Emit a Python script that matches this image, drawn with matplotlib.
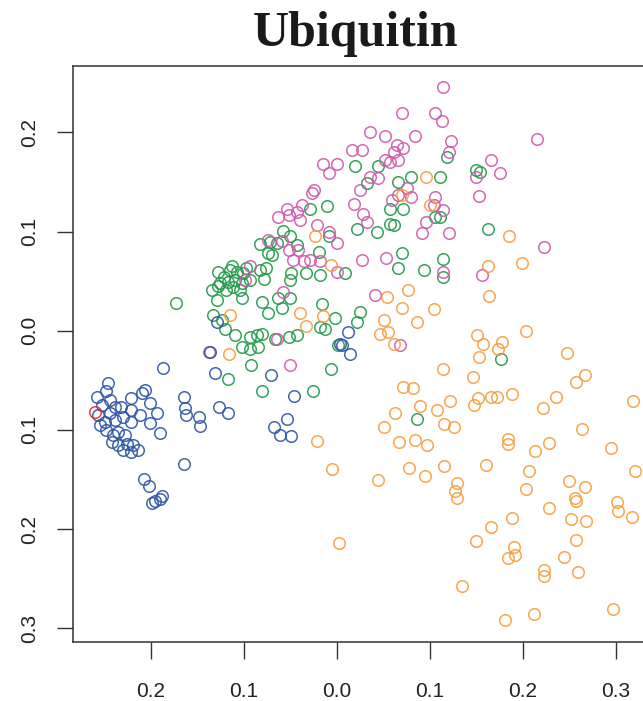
import matplotlib
matplotlib.use("Agg")
import matplotlib.pyplot as plt

# --- data (PC1, PC2) ---
blue_x = [-0.246, -0.258, -0.248, -0.244, -0.253, -0.239, -0.232, -0.257, -0.244, -0.249,
          -0.239, -0.230, -0.221, -0.221, -0.210, -0.206, -0.201, -0.194, -0.212, -0.221,
          -0.201, -0.255, -0.248, -0.241, -0.235, -0.228, -0.242, -0.235, -0.230, -0.226,
          -0.219, -0.214, -0.221, -0.190, -0.165, -0.163, -0.162, -0.148, -0.147, -0.127,
          -0.117, -0.165, -0.208, -0.202, -0.196, -0.190, -0.199, -0.188, -0.187, -0.131,
          -0.071, -0.046, -0.054, -0.068, -0.061, -0.050, 0.003, 0.014, 0.012, 0.005,
          -0.129, -0.137]
blue_y = [-0.053, -0.067, -0.061, -0.070, -0.075, -0.077, -0.077, -0.085, -0.083, -0.092,
          -0.090, -0.087, -0.080, -0.068, -0.063, -0.060, -0.073, -0.083, -0.085, -0.092,
          -0.093, -0.095, -0.100, -0.105, -0.102, -0.105, -0.112, -0.115, -0.120, -0.114,
          -0.115, -0.120, -0.122, -0.103, -0.067, -0.078, -0.085, -0.087, -0.096, -0.077,
          -0.083, -0.134, -0.149, -0.157, -0.172, -0.170, -0.174, -0.167, -0.038, -0.043,
          -0.045, -0.066, -0.089, -0.097, -0.105, -0.106, -0.013, -0.023, -0.001, -0.014,
          0.009, -0.021]

green_x = [0.019, 0.044, 0.032, 0.066, 0.080, 0.111, 0.118, 0.149, 0.154, -0.011,
           -0.029, 0.057, 0.071, 0.105, 0.111, 0.021, 0.043, 0.057, 0.061, 0.162,
           -0.009, -0.058, -0.083, -0.065, -0.074, -0.051, -0.043, -0.019, 0.070, 0.114,
           0.066, 0.093, 0.114, 0.009, -0.033, -0.018, -0.049, -0.051, -0.079, -0.115,
           -0.108, -0.101, -0.126, -0.117, -0.110, -0.119, -0.112, -0.102, -0.094, -0.122,
           -0.173, -0.102, -0.081, -0.063, -0.051, -0.016, 0.025, 0.021, -0.133, -0.124,
           -0.074, -0.059, -0.120, -0.110, -0.094, -0.086, -0.081, -0.067, -0.052, -0.043,
           -0.018, -0.013, -0.002, 0.001, -0.102, -0.094, -0.085, -0.092, -0.081, -0.026,
           -0.007, -0.117, 0.176, 0.086, -0.128, -0.098, -0.104, -0.134, -0.129, -0.070,
           -0.083, -0.076, -0.072, -0.128, -0.113]
green_y = [0.166, 0.166, 0.149, 0.150, 0.155, 0.155, 0.175, 0.162, 0.160, 0.126,
           0.123, 0.123, 0.123, 0.115, 0.115, 0.103, 0.099, 0.108, 0.107, 0.103,
           0.095, 0.101, 0.087, 0.088, 0.078, 0.095, 0.086, 0.079, 0.078, 0.072,
           0.063, 0.061, 0.054, 0.058, 0.058, 0.056, 0.058, 0.051, 0.052, 0.061,
           0.059, 0.058, 0.048, 0.049, 0.051, 0.041, 0.044, 0.048, 0.051, 0.054,
           0.028, 0.033, 0.029, 0.033, 0.033, 0.027, 0.019, 0.009, 0.016, 0.011,
           0.018, 0.023, 0.002, -0.004, -0.006, -0.004, -0.003, -0.008, -0.006, -0.004,
           0.004, 0.002, 0.013, -0.014, -0.016, -0.018, -0.016, -0.035, -0.061, -0.061,
           -0.039, -0.049, -0.029, -0.089, 0.059, 0.063, 0.041, 0.041, 0.031, 0.076,
           0.061, 0.063, 0.089, 0.045, 0.065]

pink_x = [0.114, 0.070, 0.105, 0.113, 0.035, 0.052, 0.084, 0.122, 0.016, 0.027,
          0.064, 0.071, 0.061, 0.066, 0.052, 0.057, 0.120, -0.015, 0.000, -0.009,
          0.035, 0.044, 0.165, 0.149, 0.175, 0.025, 0.075, 0.066, 0.080, 0.105,
          0.153, -0.025, -0.027, 0.018, 0.059, 0.104, 0.114, 0.028, 0.032, -0.038,
          -0.043, -0.054, -0.063, -0.052, -0.040, -0.022, -0.009, 0.000, 0.096, 0.091,
          0.120, -0.074, -0.059, -0.052, -0.042, -0.036, -0.029, -0.018, -0.047, -0.094,
          0.027, 0.053, 0.114, 0.156, 0.000, -0.058, -0.099, 0.041, 0.068, -0.065,
          -0.138, 0.215, 0.222, -0.051]
pink_y = [0.246, 0.219, 0.219, 0.211, 0.200, 0.196, 0.196, 0.191, 0.182, 0.182,
          0.187, 0.184, 0.180, 0.172, 0.172, 0.170, 0.180, 0.168, 0.168, 0.159,
          0.155, 0.154, 0.172, 0.155, 0.159, 0.142, 0.144, 0.137, 0.135, 0.135,
          0.136, 0.142, 0.139, 0.128, 0.132, 0.127, 0.122, 0.118, 0.110, 0.127,
          0.120, 0.123, 0.115, 0.117, 0.112, 0.107, 0.100, 0.088, 0.110, 0.098,
          0.098, 0.091, 0.090, 0.081, 0.081, 0.070, 0.071, 0.070, 0.071, 0.065,
          0.071, 0.073, 0.059, 0.056, 0.059, 0.039, 0.051, 0.036, -0.014, -0.008,
          -0.021, 0.193, 0.084, -0.035]

orange_x = [0.096, 0.070, 0.100, -0.024, -0.006, 0.162, 0.163, 0.054, 0.076, 0.070,
            0.104, 0.086, 0.050, 0.046, 0.055, 0.061, -0.040, -0.033, -0.015, -0.115,
            -0.116, 0.150, 0.157, 0.185, 0.199, 0.177, 0.173, 0.203, 0.247, 0.153,
            0.114, 0.146, 0.267, 0.257, 0.071, 0.082, 0.121, 0.152, 0.147, 0.165,
            0.172, 0.188, 0.235, 0.221, 0.318, 0.089, 0.108, 0.062, 0.050, 0.115,
            0.126, 0.263, 0.067, 0.084, 0.097, 0.184, 0.184, 0.213, 0.228, 0.295,
            0.077, 0.095, 0.115, 0.160, 0.206, 0.044, 0.320, 0.129, 0.127, 0.129,
            0.249, 0.267, 0.256, 0.257, 0.203, 0.301, 0.302, 0.228, 0.317, 0.252,
            0.268, 0.188, 0.165, 0.149, 0.257, 0.190, 0.191, 0.184, 0.244, 0.223,
            0.223, 0.259, 0.134, 0.212, 0.181, 0.297, -0.021, -0.005, 0.002]
orange_y = [0.155, 0.137, 0.127, 0.095, 0.066, 0.065, 0.035, 0.034, 0.041, 0.023,
            0.022, 0.009, 0.011, -0.003, -0.001, -0.013, 0.018, 0.005, 0.015, 0.016,
            -0.023, -0.004, -0.013, 0.095, 0.068, -0.011, -0.018, 0.000, -0.022, -0.027,
            -0.039, -0.047, -0.045, -0.052, -0.057, -0.058, -0.071, -0.068, -0.075, -0.067,
            -0.067, -0.064, -0.067, -0.078, -0.071, -0.076, -0.080, -0.083, -0.097, -0.094,
            -0.097, -0.099, -0.112, -0.110, -0.115, -0.109, -0.114, -0.121, -0.113, -0.118,
            -0.138, -0.146, -0.136, -0.135, -0.141, -0.151, -0.141, -0.154, -0.162, -0.169,
            -0.152, -0.158, -0.169, -0.172, -0.160, -0.173, -0.182, -0.179, -0.188, -0.190,
            -0.192, -0.189, -0.198, -0.212, -0.211, -0.218, -0.226, -0.229, -0.228, -0.241,
            -0.247, -0.243, -0.257, -0.286, -0.292, -0.281, -0.111, -0.139, -0.214]

red_x = [-0.260]
red_y = [-0.082]

ticks = [-0.2, -0.1, 0.0, 0.1, 0.2, 0.3]
xtick_labels = ["0.2", "0.1", "0.0", "0.1", "0.2", "0.3"]
yticks = [0.2, 0.1, 0.0, -0.1, -0.2, -0.3]
ytick_labels = ["0.2", "0.1", "0.0", "0.1", "0.2", "0.3"]

plt.rcParams['font.family'] = ['Liberation Sans', 'DejaVu Sans']

fig = plt.figure(figsize=(6.43, 7.01), dpi=100)
ax = fig.add_axes([0.114, 0.0846, 0.902, 0.8212])

groups = [
    (green_x, green_y, "#1f9a48"),
    (pink_x, pink_y, "#d058ac"),
    (orange_x, orange_y, "#f89c3c"),
    (blue_x, blue_y, "#2d55a5"),
    (red_x, red_y, "#e8282e"),
]
for gx, gy, col in groups:
    ax.plot(gx, gy, linestyle="none", marker="o", ms=8.3, mew=1.1,
            mfc="none", mec=col, alpha=0.9)

ax.set_xlim(-0.2835, 0.34)
ax.set_ylim(-0.3135, 0.2668)

ax.set_xticks(ticks)
ax.set_xticklabels(xtick_labels)
ax.set_yticks(yticks)
ax.set_yticklabels(ytick_labels, rotation=90, va="center")

ax.tick_params(axis="x", length=12, width=1.0, pad=17, labelsize=15,
               color="#333333", labelcolor="#222222")
ax.tick_params(axis="y", length=11.5, width=1.0, pad=13, labelsize=15,
               color="#333333", labelcolor="#222222")
for sp in ax.spines.values():
    sp.set_linewidth(1.1)
    sp.set_color("#333333")

fig.text(356 / 643, 1 - 46 / 701, "Ubiquitin", ha="center", va="baseline",
         fontsize=36, fontweight="bold", family="Liberation Serif", color="#1a1a1a")

fig.savefig("out.png", dpi=100)
